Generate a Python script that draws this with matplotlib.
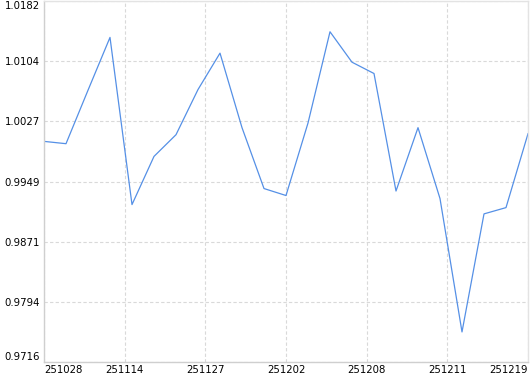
import matplotlib
matplotlib.use("Agg")
import matplotlib.pyplot as plt
import numpy as np

# Data
values = [1.00008, 0.99978, 1.00668, 1.01350, 0.99192, 0.99814, 1.00094,
          1.00677, 1.01147, 1.00185, 0.99399, 0.99309, 1.00245, 1.01423,
          1.01030, 1.00884, 0.99367, 1.00185, 0.99270, 0.97548, 0.99072,
          0.99153, 1.00107]
x_labels = ["251028", "251114", "251127", "251202", "251208", "251211", "251219"]
y_labels = ["0.9716", "0.9794", "0.9871", "0.9949", "1.0027", "1.0104", "1.0182"]
y_min, y_max = 0.9716, 1.0182

W, H = 530, 374
fig = plt.figure(figsize=(W / 100, H / 100), dpi=100)
ax = fig.add_axes([44 / W, 12 / H, 484 / W, 361 / H])

x = np.arange(len(values))
ax.plot(x, values, color="#5590e6", linewidth=0.9)

ax.set_xlim(0, len(values) - 1)
ax.set_ylim(y_min, y_max)

xt = np.linspace(0, len(values) - 1, len(x_labels))
yt = np.linspace(y_min, y_max, len(y_labels))
ax.set_xticks(xt)
ax.set_xticklabels(x_labels)
ax.set_yticks(yt)
ax.set_yticklabels(y_labels)

ax.tick_params(axis="both", length=0, labelsize=7.3, colors="#000000")
ax.tick_params(axis="x", pad=2)
ax.tick_params(axis="y", pad=3)

xl = ax.get_xticklabels()
xl[0].set_horizontalalignment("left")
xl[-1].set_horizontalalignment("right")
yl = ax.get_yticklabels()
yl[0].set_verticalalignment("bottom")
yl[-1].set_verticalalignment("top")

ax.grid(True, linestyle=(0, (3, 2)), color="#d9d9d9", linewidth=0.8)
ax.set_axisbelow(True)

for s in ["left", "bottom"]:
    ax.spines[s].set_color("#cfcfcf")
    ax.spines[s].set_linewidth(1.0)
for s in ["top", "right"]:
    ax.spines[s].set_color("#e3e3e3")
    ax.spines[s].set_linewidth(1.0)

fig.savefig("out.png", dpi=100)
